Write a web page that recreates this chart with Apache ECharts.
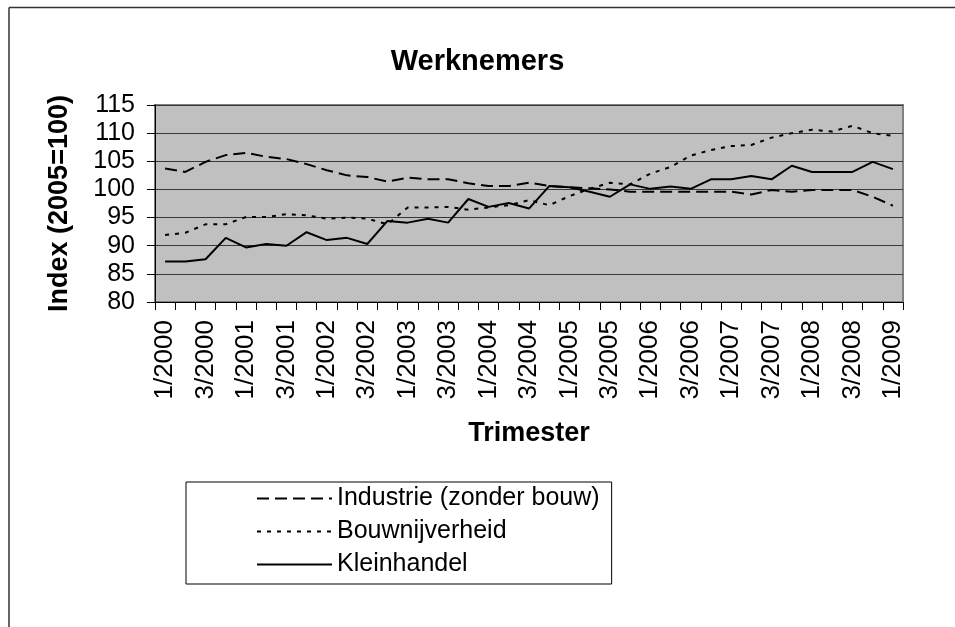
<!DOCTYPE html>
<html>
<head>
<meta charset="utf-8">
<script src="https://cdn.jsdelivr.net/npm/echarts@6/dist/echarts.min.js"></script>
<style>
html,body{margin:0;padding:0;background:#fff;}
#chart{width:955px;height:627px;}
</style>
</head>
<body>
<div id="chart"></div>
<script>
var categories = ["1/2000","2/2000","3/2000","4/2000","1/2001","2/2001","3/2001","4/2001",
  "1/2002","2/2002","3/2002","4/2002","1/2003","2/2003","3/2003","4/2003",
  "1/2004","2/2004","3/2004","4/2004","1/2005","2/2005","3/2005","4/2005",
  "1/2006","2/2006","3/2006","4/2006","1/2007","2/2007","3/2007","4/2007",
  "1/2008","2/2008","3/2008","4/2008","1/2009"];
var industrie = [103.7,103.1,104.9,106.1,106.5,105.8,105.4,104.5,103.4,102.5,102.2,101.4,
  102.1,101.8,101.8,101.1,100.6,100.6,101.2,100.6,100.4,100.2,100.0,99.6,
  99.6,99.6,99.6,99.6,99.6,99.1,99.9,99.6,99.9,99.9,99.9,98.7,97.1];
var bouwnijverheid = [91.9,92.3,93.8,93.8,95.1,95.1,95.6,95.4,94.8,95.0,94.8,93.8,
  96.8,96.8,96.9,96.4,96.8,97.2,98.1,97.2,98.8,100.1,101.2,100.9,
  102.8,104.0,106.0,107.0,107.7,107.9,109.2,110.0,110.6,110.3,111.3,110.0,109.5];
var kleinhandel = [87.2,87.2,87.6,91.4,89.7,90.3,90.0,92.4,91.0,91.4,90.3,94.4,
  94.1,94.8,94.1,98.3,96.9,97.6,96.6,100.6,100.4,99.6,98.7,100.9,
  100.1,100.5,100.1,101.8,101.8,102.4,101.8,104.2,103.1,103.1,103.1,104.9,103.6];
var seriesNames = ["Industrie (zonder bouw)","Bouwnijverheid","Kleinhandel"];
var yTicks = {min:80, max:115, interval:5};

var FONT = '"Liberation Sans", Arial, sans-serif';
var chart = echarts.init(document.getElementById('chart'), null, {renderer:'canvas'});
function lineSeries(name, data, type){
  return {
    name: name, type: 'line', data: data, symbol: 'none', showSymbol: false,
    animation: false,
    lineStyle: {color: '#000', width: 2, type: type},
    itemStyle: {color: '#000'}
  };
}
chart.setOption({
  animation: false,
  backgroundColor: '#fff',
  title: {
    text: 'Werknemers', left: 'center', top: 42,
    textStyle: {fontFamily: FONT, fontSize: 29, fontWeight: 'bold', color: '#000'}
  },
  graphic: [
    {type:'line', shape:{x1:9, y1:7.5, x2:955, y2:7.5}, style:{stroke:'#333', lineWidth:1.5}},
    {type:'line', shape:{x1:9, y1:7.5, x2:9, y2:627}, style:{stroke:'#333', lineWidth:1.5}}
  ],
  grid: {
    left: 155, right: 52, top: 105, bottom: 325,
    show: true, backgroundColor: '#c0c0c0', borderColor: '#808080', borderWidth: 2
  },
  legend: {
    orient: 'vertical', left: 186, top: 482,
    padding: [4, 12, 7, 70], itemGap: 8,
    itemWidth: 75, itemHeight: 20,
    borderColor: '#000', borderWidth: 1,
    itemStyle: {opacity: 0},
    data: seriesNames,
    textStyle: {fontFamily: FONT, fontSize: 25, color: '#000', lineHeight: 25}
  },
  xAxis: {
    type: 'category', data: categories, boundaryGap: true,
    name: 'Trimester', nameLocation: 'middle', nameGap: 118,
    nameTextStyle: {fontFamily: FONT, fontSize: 27, fontWeight: 'bold', color: '#000'},
    axisLine: {show: true, lineStyle: {color: '#000', width: 1}},
    axisTick: {show: true, interval: 0, length: 8, lineStyle: {color: '#000'}},
    axisLabel: {interval: 1, rotate: 90, margin: 18, fontFamily: FONT, fontSize: 26, color: '#000'},
    splitLine: {show: false}
  },
  yAxis: {
    type: 'value', min: yTicks.min, max: yTicks.max, interval: yTicks.interval,
    name: 'Index (2005=100)', nameLocation: 'middle', nameGap: 82, nameRotate: 90,
    nameTextStyle: {fontFamily: FONT, fontSize: 27, fontWeight: 'bold', color: '#000'},
    axisLine: {show: true, lineStyle: {color: '#000', width: 1}},
    axisTick: {show: true, length: 8, lineStyle: {color: '#000'}},
    axisLabel: {margin: 20, fontFamily: FONT, fontSize: 25, color: '#000'},
    splitLine: {show: true, lineStyle: {color: '#383838', width: 1}}
  },
  series: [
    lineSeries(seriesNames[0], industrie, [12, 6]),
    lineSeries(seriesNames[1], bouwnijverheid, [4, 6]),
    lineSeries(seriesNames[2], kleinhandel, 'solid')
  ]
});
</script>
</body>
</html>
